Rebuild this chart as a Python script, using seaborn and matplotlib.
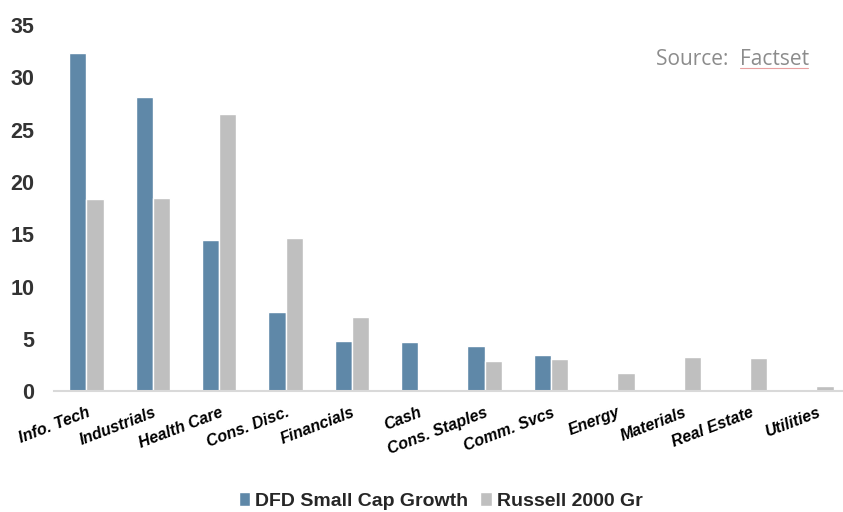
import pandas as pd
import seaborn as sns
import matplotlib.pyplot as plt

# ==============================================================================
# 1. DATA
# ==============================================================================
sectors = ['Info. Tech', 'Industrials', 'Health Care', 'Cons. Disc.', 'Financials',
           'Cash', 'Cons. Staples', 'Comm. Svcs', 'Energy', 'Materials',
           'Real Estate', 'Utilities']
dfd_values = [32.3, 28.1, 14.5, 7.6, 4.8, 4.7, 4.3, 3.45, 0.0, 0.0, 0.0, 0.0]
russell_values = [18.4, 18.5, 26.5, 14.65, 7.1, 0.0, 2.9, 3.05, 1.7, 3.25, 3.15, 0.45]
series_names = ['DFD Small Cap Growth', 'Russell 2000 Gr']
y_ticks = [0, 5, 10, 15, 20, 25, 30, 35]

df = pd.DataFrame({
    'sector': sectors * 2,
    'value': dfd_values + russell_values,
    'series': [series_names[0]] * len(sectors) + [series_names[1]] * len(sectors),
})

# ==============================================================================
# 2. PLOT
# ==============================================================================
sns.set_style('white')
plt.rcParams['font.family'] = ['Liberation Sans', 'DejaVu Sans']

fig = plt.figure(figsize=(8.43, 5.12), dpi=100)
ax = fig.add_axes([0.064, 0.236, 0.936, 0.715])

palette = {series_names[0]: '#5f88a8', series_names[1]: '#bfbfbf'}
sns.barplot(data=df, x='sector', y='value', hue='series', order=sectors,
            hue_order=series_names, palette=palette, width=0.52, gap=0,
            saturation=1, ax=ax, legend=True)

ax.set_ylim(0, 35)
ax.set_xlim(-0.49, 11.4)
ax.set_yticks(y_ticks)
ax.set_xlabel('')
ax.set_ylabel('')

for side in ['top', 'right', 'left']:
    ax.spines[side].set_visible(False)
ax.spines['bottom'].set_color('#d9d9d9')
ax.spines['bottom'].set_linewidth(1.5)
ax.tick_params(axis='both', length=0)

plt.setp(ax.get_yticklabels(), fontsize=15.5, fontweight='bold', color='#333333')
ax.tick_params(axis='y', pad=14)
ax.set_xticks(range(len(sectors)))
ax.set_xticklabels(sectors, rotation=21, ha='right', rotation_mode='anchor',
                   fontsize=11.5, fontweight='bold', fontstyle='italic', color='black')
ax.tick_params(axis='x', pad=10)

# legend at the bottom centre
leg = ax.legend(loc='lower center', bbox_to_anchor=(0.49, -0.372), ncol=2,
                frameon=False, handlelength=0.6, handleheight=0.7,
                handletextpad=0.25, columnspacing=0.6,
                prop={'weight': 'bold', 'size': 14})

# source note
fig.text(0.778, 0.874, 'Source:  ', fontsize=15, color='#8c8c8c',
         family=['Open Sans', 'DejaVu Sans'])
fig.text(0.878, 0.874, 'Factset', fontsize=15, color='#8c8c8c',
         family=['Open Sans', 'DejaVu Sans'])
fig.add_artist(plt.Line2D([0.878, 0.958], [0.868, 0.868], color='#e8a0a0',
                          linewidth=0.8, transform=fig.transFigure))

plt.savefig('out.png', dpi=100)
